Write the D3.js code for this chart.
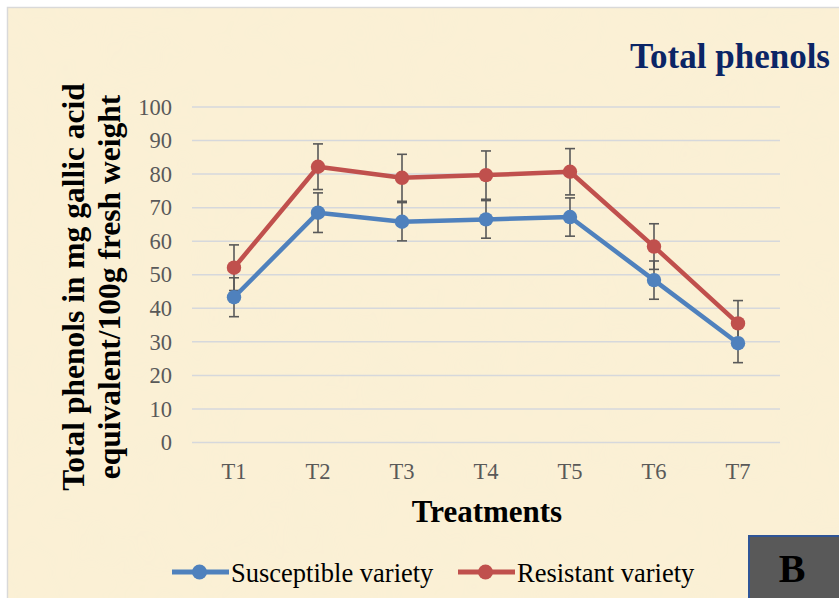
<!DOCTYPE html>
<html>
<head>
<meta charset="utf-8">
<script src="https://cdn.jsdelivr.net/npm/d3@7"></script>
<style>
  html, body { margin: 0; padding: 0; background: #ffffff; }
  svg { display: block; }
</style>
</head>
<body>
<div id="chart"></div>
<script>
// values
var treatments = ["T1", "T2", "T3", "T4", "T5", "T6", "T7"];
var susceptible = [43.3, 68.5, 65.8, 66.5, 67.2, 48.4, 29.6];
var susceptibleErr = [5.8, 5.9, 5.7, 5.6, 5.7, 5.7, 5.8];
var resistant = [52.1, 82.2, 78.9, 79.7, 80.7, 58.4, 35.5];
var resistantErr = [6.8, 6.8, 7.0, 7.2, 6.9, 6.8, 6.8];
var yTicks = [0, 10, 20, 30, 40, 50, 60, 70, 80, 90, 100];
var seriesNames = ["Susceptible variety", "Resistant variety"];

var W = 839, H = 598;
var plot = {left: 192, right: 780, top: 107, bottom: 442.5};
var serif = "Liberation Serif, Times New Roman, serif";

var svg = d3.select("#chart").append("svg")
    .attr("width", W)
    .attr("height", H);

// parchment background
var defs = svg.append("defs");
var f = defs.append("filter").attr("id", "paper")
    .attr("x", 0).attr("y", 0).attr("width", "100%").attr("height", "100%");
f.append("feTurbulence").attr("type", "fractalNoise")
    .attr("baseFrequency", "0.012").attr("numOctaves", 3).attr("seed", 7);
f.append("feColorMatrix").attr("type", "matrix")
    .attr("values", "0 0 0 0 0.93  0 0 0 0 0.86  0 0 0 0 0.66  0 0 0 0.22 0");
f.append("feComposite").attr("in2", "SourceGraphic").attr("operator", "in");

svg.append("rect").attr("x", 7.5).attr("y", 7.5)
    .attr("width", W).attr("height", H)
    .attr("fill", "#fbf0d5").attr("stroke", "#d9d9d9").attr("stroke-width", 1.5);
svg.append("rect").attr("x", 8).attr("y", 8)
    .attr("width", W - 8).attr("height", H - 8)
    .attr("fill", "#fbf0d5").attr("filter", "url(#paper)");

var x = d3.scaleBand().domain(treatments).range([plot.left, plot.right]);
var y = d3.scaleLinear().domain([0, 100]).range([plot.bottom, plot.top]);

// gridlines
svg.append("g").selectAll("line").data(yTicks).enter().append("line")
    .attr("x1", plot.left).attr("x2", plot.right)
    .attr("y1", function(d) { return y(d); })
    .attr("y2", function(d) { return y(d); })
    .attr("stroke", "#d6d8dc").attr("stroke-width", 1.5);

// y axis
var yAxis = d3.axisLeft(y).tickValues(yTicks).tickSize(0).tickPadding(20);
var gy = svg.append("g").attr("transform", "translate(" + plot.left + ",0)").call(yAxis);
gy.select(".domain").remove();
gy.selectAll("text")
    .attr("font-family", serif)
    .attr("font-size", 22.5).attr("fill", "#595959");

// x axis
var xAxis = d3.axisBottom(x).tickSize(0).tickPadding(20.5);
var gx = svg.append("g").attr("transform", "translate(0," + plot.bottom + ")").call(xAxis);
gx.select(".domain").remove();
gx.selectAll("text")
    .attr("font-family", serif)
    .attr("font-size", 22.5).attr("fill", "#595959");

var series = [
  {name: seriesNames[0], values: susceptible, err: susceptibleErr, color: "#4f81bd"},
  {name: seriesNames[1], values: resistant, err: resistantErr, color: "#c0504d"}
];

function cx(i) { return x(treatments[i]) + x.bandwidth() / 2; }

var line = d3.line()
    .x(function(d, i) { return cx(i); })
    .y(function(d) { return y(d); });

series.forEach(function(s) {
  var g = svg.append("g");
  // error bars
  var eb = g.selectAll(".eb").data(s.values).enter().append("g");
  eb.append("line")
      .attr("x1", function(d, i) { return cx(i); })
      .attr("x2", function(d, i) { return cx(i); })
      .attr("y1", function(d, i) { return y(d + s.err[i]); })
      .attr("y2", function(d, i) { return y(d - s.err[i]); });
  eb.append("line")
      .attr("x1", function(d, i) { return cx(i) - 5; })
      .attr("x2", function(d, i) { return cx(i) + 5; })
      .attr("y1", function(d, i) { return y(d + s.err[i]); })
      .attr("y2", function(d, i) { return y(d + s.err[i]); });
  eb.append("line")
      .attr("x1", function(d, i) { return cx(i) - 5; })
      .attr("x2", function(d, i) { return cx(i) + 5; })
      .attr("y1", function(d, i) { return y(d - s.err[i]); })
      .attr("y2", function(d, i) { return y(d - s.err[i]); });
  eb.selectAll("line").attr("stroke", "#595959").attr("stroke-width", 1.6);
});

series.forEach(function(s) {
  var g = svg.append("g");
  g.append("path").datum(s.values)
      .attr("d", line)
      .attr("fill", "none")
      .attr("stroke", s.color)
      .attr("stroke-width", 4.5)
      .attr("stroke-linejoin", "round");
  g.selectAll("circle").data(s.values).enter().append("circle")
      .attr("cx", function(d, i) { return cx(i); })
      .attr("cy", function(d) { return y(d); })
      .attr("r", 7.2)
      .attr("fill", s.color);
});

// titles
svg.append("text")
    .attr("x", 830).attr("y", 68)
    .attr("text-anchor", "end")
    .attr("font-family", serif)
    .attr("font-weight", "bold").attr("font-size", 35)
    .attr("fill", "#0b2565")
    .text("Total phenols");

svg.append("text")
    .attr("x", 487).attr("y", 522)
    .attr("text-anchor", "middle")
    .attr("font-family", serif)
    .attr("font-weight", "bold").attr("font-size", 31)
    .attr("fill", "#000")
    .text("Treatments");

var yt = svg.append("text")
    .attr("transform", "translate(84,287) rotate(-90)")
    .attr("text-anchor", "middle")
    .attr("font-family", serif)
    .attr("font-weight", "bold").attr("font-size", 31.5)
    .attr("fill", "#000");
yt.append("tspan").attr("x", 0).attr("y", 0).text("Total phenols in mg gallic acid");
yt.append("tspan").attr("x", 0).attr("y", 36).text("equivalent/100g fresh weight");

// legend
var legend = svg.append("g");
var lx = [172, 458];
series.forEach(function(s, i) {
  var lg = legend.append("g").attr("transform", "translate(" + lx[i] + ",572)");
  lg.append("line").attr("x1", 0).attr("x2", 57).attr("y1", 0).attr("y2", 0)
      .attr("stroke", s.color).attr("stroke-width", 5);
  lg.append("circle").attr("cx", 27.5).attr("cy", 0).attr("r", 7.5).attr("fill", s.color);
  lg.append("text").attr("x", 59).attr("y", 9.5)
      .attr("font-family", serif)
      .attr("font-size", 26.5).attr("fill", "#000")
      .text(s.name);
});

// panel letter box
svg.append("rect").attr("x", 749).attr("y", 536)
    .attr("width", 100).attr("height", 80)
    .attr("fill", "#595959").attr("stroke", "#2f5597").attr("stroke-width", 2);
svg.append("text")
    .attr("x", 792).attr("y", 582)
    .attr("text-anchor", "middle")
    .attr("font-family", serif)
    .attr("font-weight", "bold").attr("font-size", 40)
    .attr("fill", "#000")
    .text("B");
</script>
</body>
</html>
